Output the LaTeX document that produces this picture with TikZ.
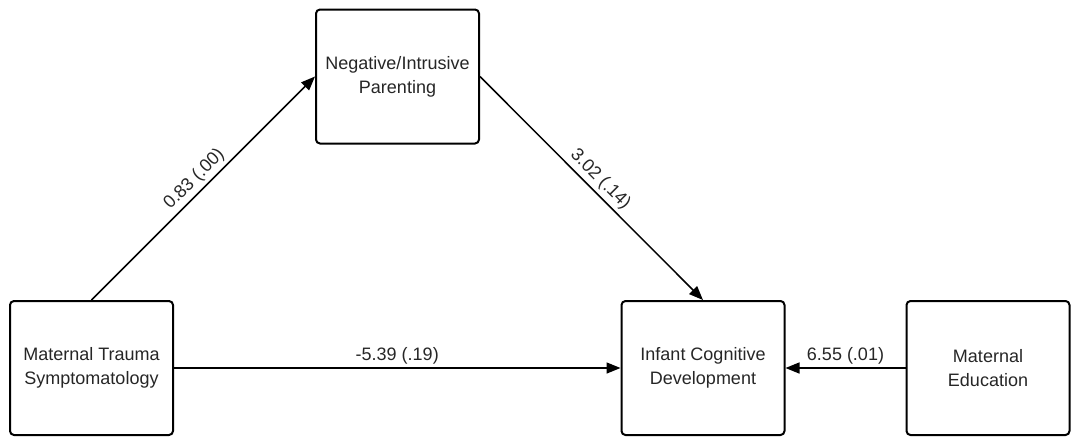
\documentclass[tikz,border=0pt]{standalone}
\usepackage{fontspec}
\setmainfont{Liberation Sans}
\usetikzlibrary{arrows.meta}

\tikzset{
  box/.style={draw, line width=2pt, rounded corners=4pt, align=center,
    minimum width=163pt, minimum height=134pt, text=black!85},
  path/.style={line width=1.5pt, -{Triangle[length=14pt,width=11pt]}},
  coef/.style={midway, above, sloped, text=black!85}
}

\begin{document}
\begin{tikzpicture}[x=1pt,y=-1pt,font=\fontsize{18}{24}\selectfont]
      \useasboundingbox (0,0) rectangle (1074,437);
      \node[box] (parent) at (397.5, 76.5) {Negative/Intrusive\\Parenting};
      \node[box] (trauma) at ( 91.5,  368) {Maternal Trauma\\Symptomatology};
      \node[box] (infant) at (  703,  368) {Infant Cognitive\\Development};
      \node[box] (educ)   at (  988,  368) {Maternal\\Education};
      \draw[path] (trauma.north) -- node[coef] {0.83 (.00)} (parent.west);
      \draw[path] (parent.east) -- node[coef] {3.02 (.14)} (infant.north);
      \draw[path] (trauma.east) -- node[coef] {-5.39 (.19)} (infant.west);
      \draw[path] (educ.west) -- node[coef] {6.55 (.01)} (infant.east);
    \end{tikzpicture}
\end{document}
